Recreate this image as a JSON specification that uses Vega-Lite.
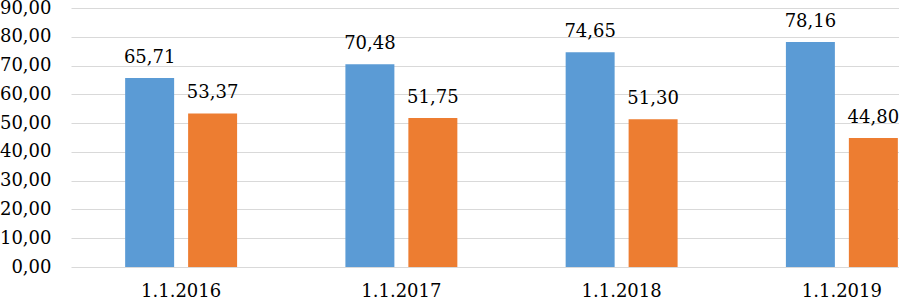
{
  "$schema": "https://vega.github.io/schema/vega-lite/v6.json",
  "autosize": {"type": "none"},
  "padding": {"left": 71, "top": 8, "right": 0, "bottom": 36},
  "width": 828,
  "height": 259,
  "config": {
    "locale": {"number": {"decimal": ",", "thousands": ".", "grouping": [3], "currency": ["", " €"]}},
    "view": {"stroke": null},
    "font": "DejaVu Serif"
  },
  "data": {
    "values": [
      {"date": "1.1.2016", "series": "A", "value": 65.71},
      {"date": "1.1.2016", "series": "B", "value": 53.37},
      {"date": "1.1.2017", "series": "A", "value": 70.48},
      {"date": "1.1.2017", "series": "B", "value": 51.75},
      {"date": "1.1.2018", "series": "A", "value": 74.65},
      {"date": "1.1.2018", "series": "B", "value": 51.30},
      {"date": "1.1.2019", "series": "A", "value": 78.16},
      {"date": "1.1.2019", "series": "B", "value": 44.80}
    ]
  },
  "encoding": {
    "x": {
      "field": "date", "type": "nominal", "sort": null,
      "scale": {"range": [0, 881], "paddingInner": 0, "paddingOuter": 0},
      "axis": {"title": null, "labelAngle": 0, "domain": false, "ticks": false, "labelPadding": 15, "labelFont": "DejaVu Serif", "labelFontSize": 18, "labelColor": "#000000"}
    },
    "xOffset": {"field": "series", "type": "nominal", "scale": {"paddingInner": 0.222, "paddingOuter": 0.86}},
    "y": {
      "field": "value", "type": "quantitative",
      "scale": {"domain": [0, 90], "nice": false},
      "axis": {"title": null, "values": [0, 10, 20, 30, 40, 50, 60, 70, 80, 90], "format": ".2f", "grid": true, "gridColor": "#d9d9d9", "gridWidth": 1, "domain": false, "ticks": false, "labelPadding": 20, "labelFont": "DejaVu Serif", "labelFontSize": 18, "labelColor": "#000000"}
    }
  },
  "layer": [
    {
      "mark": {"type": "bar"},
      "encoding": {
        "color": {"field": "series", "type": "nominal", "scale": {"range": ["#5b9bd5", "#ed7d31"]}, "legend": null}
      }
    },
    {
      "mark": {"type": "text", "baseline": "alphabetic", "dy": -15, "font": "DejaVu Serif", "fontSize": 18, "color": "#000000"},
      "encoding": {
        "text": {"field": "value", "type": "quantitative", "format": ".2f"}
      }
    }
  ]
}
